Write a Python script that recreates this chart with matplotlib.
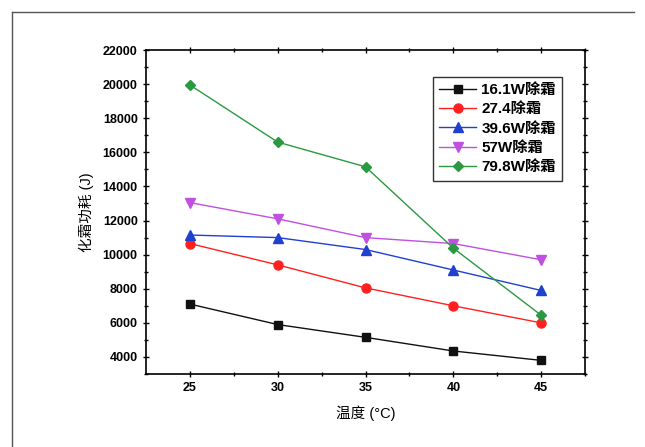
import numpy as np
import matplotlib
matplotlib.use("Agg")
import matplotlib.pyplot as plt
from matplotlib.lines import Line2D

plt.rcParams['font.family'] = ['Liberation Sans', 'Noto Sans CJK SC', 'DejaVu Sans']

temps = [25, 30, 35, 40, 45]
labels = ["16.1W除霜", "27.4除霜", "39.6W除霜", "57W除霜", "79.8W除霜"]
e_161 = [7100, 5900, 5150, 4350, 3800]
e_274 = [10650, 9400, 8050, 7000, 6000]
e_396 = [11150, 11000, 10300, 9100, 7900]
e_57 = [13050, 12100, 11000, 10650, 9700]
e_798 = [19950, 16600, 15150, 10380, 6450]

series = [e_161, e_274, e_396, e_57, e_798]
colors = ["#111111", "#ff2020", "#2040d0", "#c050e0", "#2a9a40"]
markers = ["s", "o", "^", "v", "D"]
msizes = [6, 6.5, 6.5, 6.5, 5.5]

fig = plt.figure(figsize=(6.45, 4.47), dpi=100)
ax = fig.add_axes([0.2264, 0.1633, 0.6806, 0.7248])

for ys, c, m, ms, lab in zip(series, colors, markers, msizes, labels):
  ax.plot(temps, ys, color=c, marker=m, markersize=ms, linewidth=1.0, label=lab)

ax.set_xlim(22.5, 47.5)
ax.set_ylim(3000, 22000)
ax.set_xticks(temps)
ax.set_xticks(np.arange(27.5, 47.6, 5), minor=True)
ax.set_yticks(np.arange(4000, 22001, 2000))
ax.set_yticks(np.arange(3000, 22001, 1000), minor=True)
ax.tick_params(axis='both', which='both', labelsize=9, width=1.0, top=True, right=True)
ax.tick_params(which='major', length=5, direction='inout')
ax.tick_params(which='minor', length=3, direction='inout')
for t in ax.get_xticklabels() + ax.get_yticklabels():
  t.set_fontweight('bold')
for s in ax.spines.values():
  s.set_linewidth(1.2)

ax.set_xlabel("温度 (°C)", fontsize=10.5, labelpad=8)
ax.set_ylabel("化霜功耗 (J)", fontsize=10.5, labelpad=6)

leg = ax.legend(loc='upper left', bbox_to_anchor=(0.654, 0.917), borderaxespad=0,
                fontsize=11, fancybox=False, edgecolor='#333333', framealpha=1,
                handlelength=2.4, handletextpad=0.35, labelspacing=0.35, borderpad=0.4)
leg.get_frame().set_linewidth(1.0)
for t in leg.get_texts():
  t.set_fontweight('bold')

# outer frame of the page
fig.add_artist(Line2D([12/645, 634/645], [1-12/447, 1-12/447], color='#555555', linewidth=1.0))
fig.add_artist(Line2D([12/645, 12/645], [1-12/447, 0], color='#555555', linewidth=1.0))

fig.savefig("out.png", dpi=100)
